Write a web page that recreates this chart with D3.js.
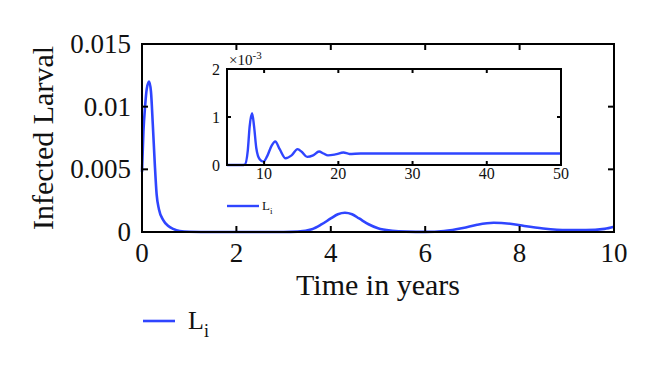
<!DOCTYPE html>
<html>
<head>
<meta charset="utf-8">
<script src="https://cdn.jsdelivr.net/npm/d3@7"></script>
<style>
  body { margin: 0; background: #fff; }
  text { font-family: "Liberation Serif", "Times New Roman", serif; fill: #111; }
</style>
</head>
<body>
<div id="container"></div>
<script>
/* CONSTANTS AND GLOBALS */
const width = 660;
const height = 368;
const lineColor = "#2f45ff";

/* DATA */
// main plot: time in years, infected larval
const mainTime = [0, 0.03, 0.065, 0.1, 0.15, 0.19, 0.23, 0.27, 0.31, 0.36, 0.45, 0.55, 0.66, 0.8, 1.0, 1.5, 2, 3, 3.3, 3.6, 3.8, 4.0, 4.15, 4.3, 4.45, 4.6, 4.8, 5.0, 5.3, 5.6, 6.0, 6.4, 6.8, 7.1, 7.45, 7.8, 8.1, 8.5, 9.0, 9.4, 9.8, 10];
const mainLarval = [0.0048, 0.008, 0.01, 0.0114, 0.012, 0.0112, 0.0085, 0.0055, 0.003, 0.0018, 0.00095, 0.0005, 0.00025, 0.00008, 0.00002, 0, 0, 0, 0.00003, 0.00022, 0.0006, 0.00108, 0.00142, 0.00154, 0.00142, 0.00108, 0.00062, 0.0003, 0.0001, 0.00003, 0.00001, 0.00008, 0.00032, 0.00058, 0.00074, 0.00066, 0.00048, 0.00028, 0.00015, 0.00015, 0.00025, 0.00042];
const mainXTicks = [0, 2, 4, 6, 8, 10];
const mainYTicks = [0, 0.005, 0.01, 0.015];
const mainYLabels = ["0", "0.005", "0.01", "0.015"];

// inset: long run, values x 1e-3
const insetTime = [5, 7, 7.4, 7.8, 8.05, 8.38, 8.65, 8.95, 9.4, 9.9, 10.4, 11.0, 11.5, 12.1, 12.9, 13.7, 14.5, 15.1, 15.8, 16.6, 17.4, 18.0, 18.6, 19.6, 20.7, 21.5, 23, 30, 40, 50];
const insetLarval = [0, 0, 0.01, 0.3, 0.8, 1.08, 0.8, 0.35, 0.12, 0.07, 0.18, 0.4, 0.49, 0.33, 0.14, 0.2, 0.33, 0.27, 0.17, 0.2, 0.28, 0.24, 0.2, 0.22, 0.26, 0.23, 0.24, 0.24, 0.24, 0.24];
const insetXTicks = [10, 20, 30, 40, 50];
const insetYTicks = [0, 1, 2];

const svg = d3.select("#container")
  .append("svg")
  .attr("width", width)
  .attr("height", height);

/* MAIN AXES */
const x = d3.scaleLinear().domain([0, 10]).range([142, 614]);
const y = d3.scaleLinear().domain([0, 0.015]).range([232, 44]);

const line = d3.line()
  .x((d, i) => x(mainTime[i]))
  .y(d => y(d))
  .curve(d3.curveMonotoneX);

svg.append("path")
  .attr("d", line(mainLarval))
  .attr("fill", "none")
  .attr("stroke", lineColor)
  .attr("stroke-width", 2.6);

// box with inward ticks on all sides
function drawBox(g, xs, ys, xt, yt, tickLen) {
  const [x0, x1] = xs.range();
  const [y0, y1] = ys.range();
  g.append("rect")
    .attr("x", x0).attr("y", y1)
    .attr("width", x1 - x0).attr("height", y0 - y1)
    .attr("fill", "none").attr("stroke", "#000").attr("stroke-width", 2);
  xt.forEach(t => {
    g.append("line").attr("x1", xs(t)).attr("x2", xs(t)).attr("y1", y0).attr("y2", y0 - tickLen)
      .attr("stroke", "#000").attr("stroke-width", 2);
    g.append("line").attr("x1", xs(t)).attr("x2", xs(t)).attr("y1", y1).attr("y2", y1 + tickLen)
      .attr("stroke", "#000").attr("stroke-width", 2);
  });
  yt.forEach(t => {
    g.append("line").attr("x1", x0).attr("x2", x0 + tickLen).attr("y1", ys(t)).attr("y2", ys(t))
      .attr("stroke", "#000").attr("stroke-width", 2);
    g.append("line").attr("x1", x1).attr("x2", x1 - tickLen).attr("y1", ys(t)).attr("y2", ys(t))
      .attr("stroke", "#000").attr("stroke-width", 2);
  });
}

const mainG = svg.append("g");
drawBox(mainG, x, y, mainXTicks, mainYTicks, 6);

mainG.selectAll(".xlab")
  .data(mainXTicks)
  .join("text")
  .attr("x", d => x(d))
  .attr("y", 262)
  .attr("text-anchor", "middle")
  .style("font-size", "27px")
  .text(d => d);

mainG.selectAll(".ylab")
  .data(mainYTicks)
  .join("text")
  .attr("x", 131)
  .attr("y", d => y(d) + 9)
  .attr("text-anchor", "end")
  .style("font-size", "27px")
  .text((d, i) => mainYLabels[i]);

// axis titles
svg.append("text")
  .attr("x", 378)
  .attr("y", 295)
  .attr("text-anchor", "middle")
  .style("font-size", "30px")
  .text("Time in years");

svg.append("text")
  .attr("transform", "translate(53,138) rotate(-90)")
  .attr("text-anchor", "middle")
  .style("font-size", "30px")
  .text("Infected Larval");

// main legend
svg.append("line")
  .attr("x1", 143).attr("x2", 175).attr("y1", 321).attr("y2", 321)
  .attr("stroke", lineColor).attr("stroke-width", 2.6);
const lg = svg.append("text").attr("x", 188).attr("y", 329).style("font-size", "26px");
lg.append("tspan").text("L");
lg.append("tspan").attr("dy", 8).style("font-size", "18px").text("i");

/* INSET */
const ix = d3.scaleLinear().domain([5, 50]).range([227, 561]);
const iy = d3.scaleLinear().domain([0, 2]).range([165, 69]);

svg.append("rect")
  .attr("x", 227).attr("y", 69).attr("width", 334).attr("height", 96)
  .attr("fill", "#fff");

const iline = d3.line()
  .x((d, i) => ix(insetTime[i]))
  .y(d => iy(d))
  .curve(d3.curveMonotoneX);

svg.append("path")
  .attr("d", iline(insetLarval))
  .attr("fill", "none")
  .attr("stroke", lineColor)
  .attr("stroke-width", 2.4);

const insetG = svg.append("g");
drawBox(insetG, ix, iy, insetXTicks, insetYTicks, 4);

insetG.selectAll(".ixlab")
  .data(insetXTicks)
  .join("text")
  .attr("x", d => ix(d))
  .attr("y", 179)
  .attr("text-anchor", "middle")
  .style("font-size", "16px")
  .text(d => d);

insetG.selectAll(".iylab")
  .data(insetYTicks)
  .join("text")
  .attr("x", 220)
  .attr("y", d => iy(d) + 5.5)
  .attr("text-anchor", "end")
  .style("font-size", "16px")
  .text(d => d);

const exp = svg.append("text").attr("x", 229).attr("y", 65).style("font-size", "15px");
exp.append("tspan").text("×10");
exp.append("tspan").attr("dy", -6).style("font-size", "11px").text("-3");

// inset legend
svg.append("line")
  .attr("x1", 227).attr("x2", 259).attr("y1", 206).attr("y2", 206)
  .attr("stroke", lineColor).attr("stroke-width", 2.4);
const ilg = svg.append("text").attr("x", 262).attr("y", 210).style("font-size", "13px");
ilg.append("tspan").text("L");
ilg.append("tspan").attr("dy", 4).style("font-size", "9px").text("i");
</script>
</body>
</html>
